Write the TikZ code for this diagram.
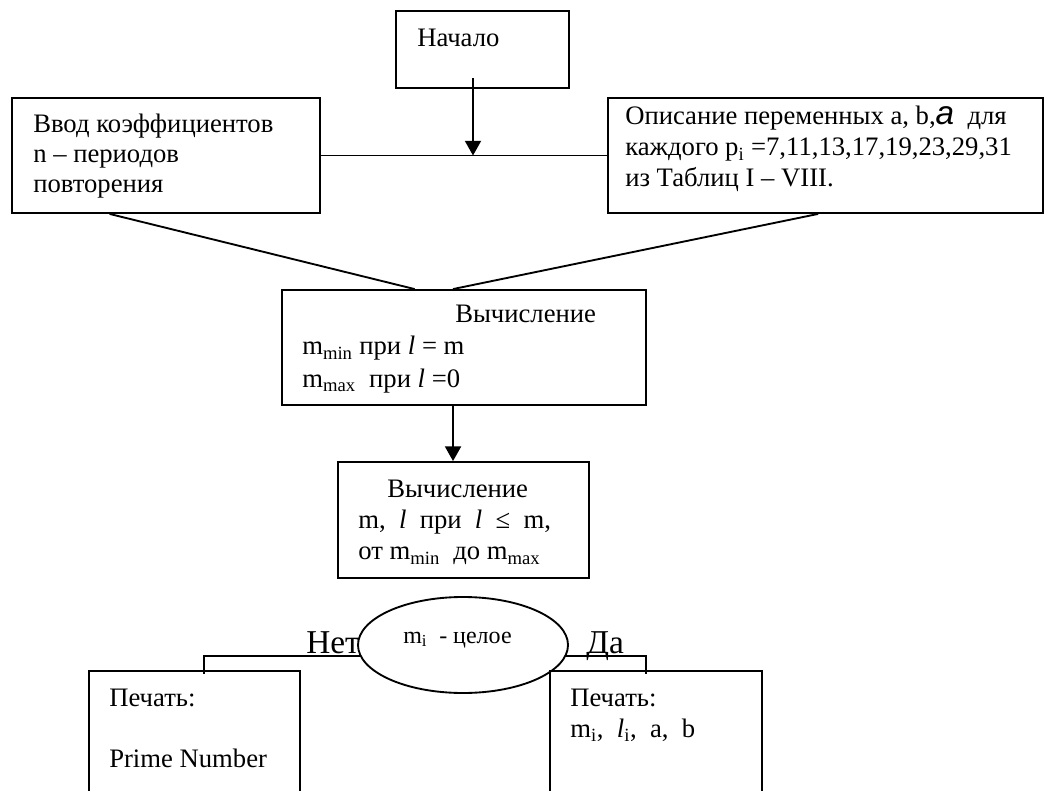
\documentclass[tikz,border=0pt]{standalone}
\usepackage{fontspec}
\setmainfont{Liberation Serif}
\newfontfamily\arialfont{Liberation Sans}
\usetikzlibrary{shapes.geometric,arrows.meta,calc}
\newcommand{\boxlines}[1]{\begin{tabular}[t]{@{}l@{}}#1\end{tabular}}
\tikzset{
  blk/.style={draw, line width=1.4pt, inner sep=0pt},
  txt/.style={anchor=base west, inner sep=0pt, font=\fontsize{20}{23.5}\selectfont},
  arr/.style={line width=1.4pt, -{Triangle[length=11pt,width=12pt]}},
  lnk/.style={line width=1.4pt}
}
\begin{document}
\begin{tikzpicture}[x=0.75pt,y=-0.75pt]
\useasboundingbox (0,0) rectangle (1045,791);
\clip (0,0) rectangle (1045,791);

\node[blk, minimum width=129.75pt, minimum height=57.75pt] (start) at (482.5,49.5) {};
\node[txt] (startt) at (417,47) {Начало};

\node[blk, minimum width=231pt, minimum height=86.25pt] (input) at (166,155.5) {};
\node[txt, font=\fontsize{20}{22.5}\selectfont] (inputt) at (33,133) {\boxlines{Ввод коэффициентов\\ n – периодов\\ повторения}};

\node[blk, minimum width=326.25pt, minimum height=86.25pt] (vars) at (825.5,155.5) {};
\node[txt, font=\fontsize{20}{23.25}\selectfont] (varst) at (625,125) {\boxlines{Описание переменных a, b,{\arialfont\itshape\fontsize{25}{25}\selectfont a}\ \ для\\ каждого p\textsubscript{i} =7,11,13,17,19,23,29,31\\ из Таблиц I – VIII.}};

\node[blk, minimum width=273pt, minimum height=86.25pt] (range) at (464,347.5) {};
\node[txt, font=\fontsize{20}{24}\selectfont] (ranget) at (302,323) {\boxlines{\hspace*{114.75pt}Вычисление\\ m\textsubscript{min} при \textit{l} = m\\ m\textsubscript{max}\ \ при \textit{l} =0}};

\node[blk, minimum width=188.25pt, minimum height=87pt] (calc) at (463.5,520) {};
\node[txt, font=\fontsize{20}{23.6}\selectfont] (calct) at (358,497) {\boxlines{\hspace*{21.75pt}Вычисление\\ m,\ \ \textit{l}\ \ при\ \ \textit{l}\ \ ≤\ \ m,\\ от m\textsubscript{min}\ \ до m\textsubscript{max}}};

\node[draw, ellipse, line width=1.4pt, inner sep=0pt, minimum width=157.5pt, minimum height=72pt] (cond) at (463,645) {};
\node[txt, font=\fontsize{18}{20}\selectfont] (condt) at (403,643) {m\textsubscript{i}\ \ - целое};
\node[txt, font=\fontsize{25}{28}\selectfont] (no) at (306,653) {Нет};
\node[txt, font=\fontsize{25}{28}\selectfont] (yes) at (586,653) {Да};

\node[blk, minimum width=158.25pt, minimum height=111.75pt] (noprint) at (194.5,745.5) {};
\node[txt, font=\fontsize{20}{23}\selectfont] (noprintt) at (109,706) {\boxlines{Печать:\\ \\ Prime Number}};
\node[blk, minimum width=159pt, minimum height=111.75pt] (yesprint) at (656,745.5) {};
\node[txt, font=\fontsize{20}{23.25}\selectfont] (yesprintt) at (570,706) {\boxlines{Печать:\\ m\textsubscript{i},\ \ \textit{l}\textsubscript{i},\ \ a,\ \ b}};

% connectors
\coordinate (drop) at (473,78);
\draw[arr] (drop) -- (drop |- input.east);
\draw[lnk] (input.east) -- (vars.west);
\draw[lnk] ($(input.south west)!0.318!(input.south east)$) -- ($(range.north west)!0.365!(range.north east)$);
\draw[lnk] ($(vars.south west)!0.483!(vars.south east)$) -- ($(range.north west)!0.47!(range.north east)$);
\coordinate (mdrop) at ($(range.south west)!0.47!(range.south east)$);
\draw[arr] (mdrop) -- (mdrop |- calc.north);

%\draw (cond.north) -- ++(0,-4);
\coordinate (nohook) at (204,674);
\coordinate (yeshook) at (646,674);
\draw[lnk] (cond.186) -| (nohook);
\draw[lnk] (cond.354) -| (yeshook);

\end{tikzpicture}
\end{document}
